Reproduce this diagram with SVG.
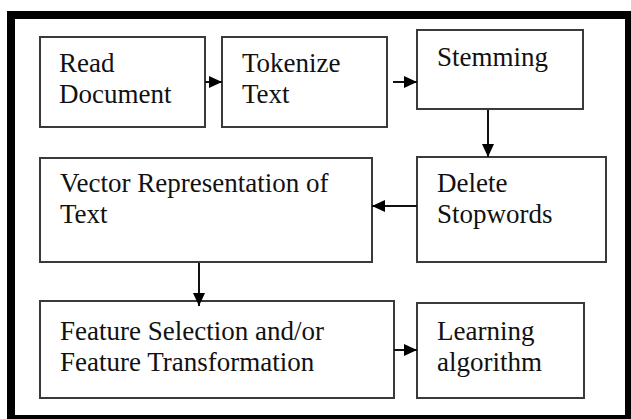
<svg xmlns="http://www.w3.org/2000/svg" width="631" height="419" viewBox="0 0 631 419">
<style>
.box{fill:#fff;stroke:#3a3a3a;stroke-width:2}
.t{font-size:27px;fill:#111}
.c{stroke:#111;stroke-width:2;fill:none}
</style>
<defs>
<marker id="ah" markerUnits="userSpaceOnUse" markerWidth="14" markerHeight="14" viewBox="0 0 14 14" refX="13" refY="7" orient="auto">
<path d="M0,1 L13,7 L0,13 Z" fill="#000"/>
</marker>
</defs>
<rect x="0" y="0" width="631" height="419" fill="#fff"/>
<rect x="11" y="15" width="618" height="404" fill="none" stroke="#000" stroke-width="8"/>
<g font-family="Liberation Serif, Times New Roman, serif">
<g id="read">
<rect class="box" x="40" y="37" width="165" height="90"/>
<text class="t" x="59" y="72">Read</text>
<text class="t" x="59" y="103">Document</text>
</g>
<g id="tokenize">
<rect class="box" x="222" y="37" width="165" height="90"/>
<text class="t" x="242" y="72">Tokenize</text>
<text class="t" x="242" y="103">Text</text>
</g>
<g id="stemming">
<rect class="box" x="417" y="30" width="166" height="79"/>
<text class="t" x="437" y="66">Stemming</text>
</g>
<g id="delete">
<rect class="box" x="417" y="157" width="189" height="105"/>
<text class="t" x="437" y="192">Delete</text>
<text class="t" x="437" y="223">Stopwords</text>
</g>
<g id="vector">
<rect class="box" x="40" y="158" width="332" height="104"/>
<text class="t" x="60" y="192">Vector Representation of</text>
<text class="t" x="60" y="223">Text</text>
</g>
<g id="feature">
<rect class="box" x="40" y="301" width="354" height="97"/>
<text class="t" x="60" y="340">Feature Selection and/or</text>
<text class="t" x="60" y="371">Feature Transformation</text>
</g>
<g id="learning">
<rect class="box" x="417" y="303" width="167" height="95"/>
<text class="t" x="437" y="340">Learning</text>
<text class="t" x="437" y="371">algorithm</text>
</g>
</g>
<g id="connectors">
<line class="c" x1="205" y1="82" x2="222" y2="82" marker-end="url(#ah)"/>
<line class="c" x1="393" y1="82" x2="417" y2="82" marker-end="url(#ah)"/>
<line class="c" x1="488" y1="110" x2="488" y2="157" marker-end="url(#ah)"/>
<line class="c" x1="417" y1="206" x2="372" y2="206" marker-end="url(#ah)"/>
<line class="c" x1="199" y1="263" x2="199" y2="306" marker-end="url(#ah)"/>
<line class="c" x1="394" y1="350" x2="417" y2="350" marker-end="url(#ah)"/>
</g>
</svg>
